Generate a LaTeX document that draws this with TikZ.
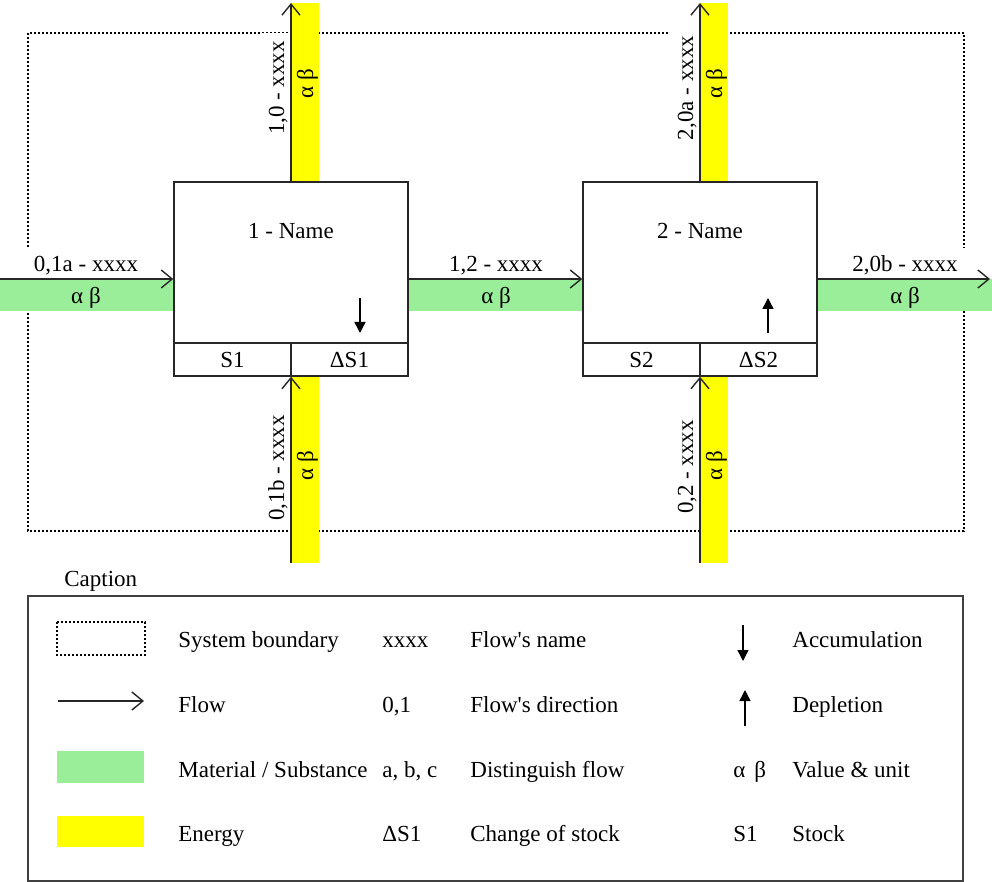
\documentclass[tikz,border=0pt]{standalone}
\usepackage{fontspec}
\newfontfamily\tnr{Liberation Serif}
\usetikzlibrary{arrows.meta}
\definecolor{matgreen}{HTML}{9AEE9A}
\definecolor{enyellow}{HTML}{FFFF00}
\begin{document}
\begin{tikzpicture}[x=0.5pt,y=-0.5pt,
  font=\tnr\fontsize{11.5}{13.8}\selectfont,
  every node/.style={inner sep=0pt},
  boundary/.style={draw=black, line width=0.75pt, dash pattern=on 1pt off 1pt},
  procbox/.style={draw=black!85, line width=0.7pt, minimum width=117pt, minimum height=97pt},
  cellbox/.style={draw=black!85, line width=0.7pt, minimum width=58.5pt, minimum height=16.5pt},
  flowline/.style={draw=black!85, line width=0.7pt, -{Straight Barb[length=5.5pt,width=9pt]}},
  stockarrow/.style={draw=black, line width=0.7pt, -{Triangle[length=5.5pt,width=5.5pt]}},
  flowlabel/.style={fill=white, inner xsep=4pt, inner ysep=0pt, text height=12pt, text depth=3.5pt, anchor=base},
  vallabel/.style={anchor=base},
  legtext/.style={anchor=base west}
]
\useasboundingbox (0,0) rectangle (992,882);
% system boundary
\draw[boundary] (28,33) rectangle (964,531);
% material and energy bands
\fill[matgreen] (0,279) rectangle (174,311);
\fill[matgreen] (408,279) rectangle (583,311);
\fill[matgreen] (817,279) rectangle (992,311);
\fill[enyellow] (291,3) rectangle (319,182);
\fill[enyellow] (291,376) rectangle (319,563);
\fill[enyellow] (700,3) rectangle (728,182);
\fill[enyellow] (700,376) rectangle (728,563);
% flow labels
\node[flowlabel] (l01a) at (86,272) {0,1a - xxxx};
\node[flowlabel] (l12) at (496,272) {1,2 - xxxx};
\node[flowlabel] (l20b) at (905,272) {2,0b - xxxx};
\node[flowlabel, rotate=90] (l10) at (284,88) {1,0 - xxxx};
\node[flowlabel, rotate=90] (l20a) at (693,88) {2,0a - xxxx};
\node[flowlabel, rotate=90] (l01b) at (284,468) {0,1b - xxxx};
\node[flowlabel, rotate=90] (l02) at (693,467) {0,2 - xxxx};
% values
\node[vallabel] (v01a) at (86,304) {α β};
\node[vallabel] (v12) at (496,304) {α β};
\node[vallabel] (v20b) at (905,304) {α β};
\node[vallabel, rotate=90] (v10) at (313,84) {α β};
\node[vallabel, rotate=90] (v20a) at (722,84) {α β};
\node[vallabel, rotate=90] (v01b) at (313,466) {α β};
\node[vallabel, rotate=90] (v02) at (722,466) {α β};
% processes
\node[procbox] (b1) at (291,279) {};
\node[procbox] (b2) at (700,279) {};
\node[anchor=base] (n1) at (291,239) {1 - Name};
\node[anchor=base] (n2) at (700,239) {2 - Name};
\node[cellbox] (s1) at (232.5,359.5) {S1};
\node[cellbox] (ds1) at (349.5,359.5) {ΔS1};
\node[cellbox] (s2) at (641.5,359.5) {S2};
\node[cellbox] (ds2) at (758.5,359.5) {ΔS2};
% flows
\coordinate (in1) at (0,279);
\coordinate (out1) at (291,3);
\coordinate (in1b) at (291,563);
\coordinate (out2) at (700,3);
\coordinate (in2b) at (700,563);
\coordinate (out2b) at (990,279);
\draw[flowline] (in1) -- (b1.west);
\draw[flowline] (b1.east) -- (b2.west);
\draw[flowline] (b2.east) -- (out2b);
\draw[flowline] (b1.north) -- (out1);
\draw[flowline] (in1b) -- (b1.south);
\draw[flowline] (b2.north) -- (out2);
\draw[flowline] (in2b) -- (b2.south);
% stock change arrows
\coordinate (acc1a) at (360,298);
\coordinate (acc1b) at (360,333);
\coordinate (dep2a) at (768,333);
\coordinate (dep2b) at (768,298);
\draw[stockarrow] (acc1a) -- (acc1b);
\draw[stockarrow] (dep2a) -- (dep2b);
% legend
\node[legtext] (cap) at (64,587) {Caption};
\node[draw=black!75, line width=0.6pt, minimum width=467.5pt, minimum height=142.5pt] (legend) at (495.5,738.5) {};
\draw[boundary] (57,622) rectangle (145,655);
\coordinate (lfa) at (58,701);
\coordinate (lfb) at (144,701);
\draw[flowline] (lfa) -- (lfb);
\fill[matgreen] (57,751) rectangle (144,783);
\fill[enyellow] (57,816) rectangle (144,847);
\node[legtext] (t11) at (178,647) {System boundary};
\node[legtext] (t12) at (178,712) {Flow};
\node[legtext] (t13) at (178,777) {Material / Substance};
\node[legtext] (t14) at (178,841) {Energy};
\node[legtext] (t21) at (382,647) {xxxx};
\node[legtext] (t22) at (382,712) {0,1};
\node[legtext] (t23) at (382,777) {a, b, c};
\node[legtext] (t24) at (382,841) {ΔS1};
\node[legtext] (t31) at (470,647) {Flow's name};
\node[legtext] (t32) at (470,712) {Flow's direction};
\node[legtext] (t33) at (470,777) {Distinguish flow};
\node[legtext] (t34) at (470,841) {Change of stock};
\coordinate (laa) at (743,625);
\coordinate (lab) at (743,661);
\coordinate (lda) at (745,726);
\coordinate (ldb) at (745,690);
\draw[stockarrow] (laa) -- (lab);
\draw[stockarrow] (lda) -- (ldb);
\node[legtext] (t43) at (733,777) {α\hspace{4.5pt}β};
\node[legtext] (t44) at (733,841) {S1};
\node[legtext] (t51) at (792,647) {Accumulation};
\node[legtext] (t52) at (792,712) {Depletion};
\node[legtext] (t53) at (792,777) {Value \& unit};
\node[legtext] (t54) at (792,841) {Stock};
\end{tikzpicture}
\end{document}
